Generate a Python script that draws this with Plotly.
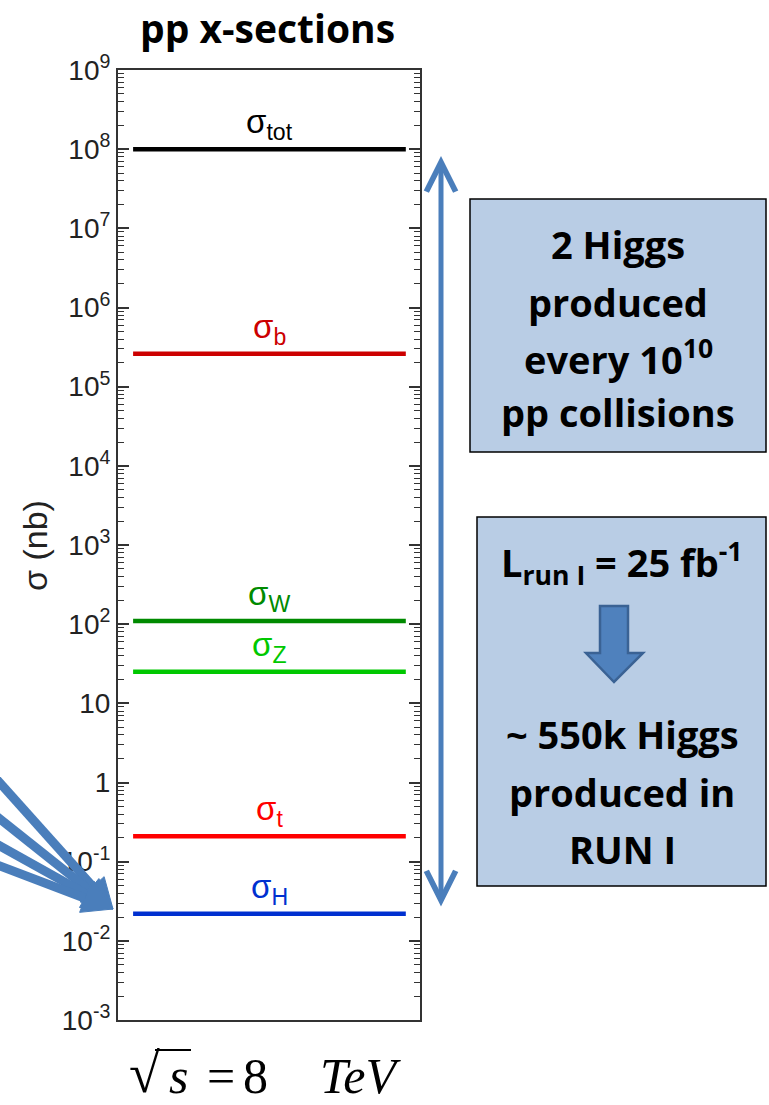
import math
import plotly.graph_objects as go

# ---- data ---------------------------------------------------------------
processes = ["tot", "b", "W", "Z", "t", "H"]
xsec_nb = [1.0e8, 2.6e5, 110.0, 25.0, 0.21, 0.022]
line_colors = ["#000000", "#cc0000", "#008a00", "#00c800", "#ff0000", "#0030d0"]

decades = list(range(-3, 10))
tick_vals = [10.0 ** k for k in decades]
tick_text = ["1" if k == 0 else "10" if k == 1 else f"10<sup>{k}</sup>" for k in decades]
minor_vals = [m * 10.0 ** k for k in range(-3, 9) for m in range(2, 10)]

box1_lines = ["2 Higgs", "produced", "every 10<sup>10</sup>", "pp collisions"]
box2_top = "L<sub>run I</sub> = 25 fb<sup>-1</sup>"
box2_lines = ["~ 550k Higgs", "produced in", "RUN I"]

# ---- page geometry --------------------------------------------------------
W, H = 769, 1105
L, R, T, B = 118, 420, 70, 1020          # plot frame in page pixels
SPAN = [0.05, 0.953]                     # horizontal extent of each level line
BLUE = "#4a7ebb"
BOLD_FONT = "Open Sans"


def pp(x, y):
    """page pixel -> paper coordinates"""
    return (x - L) / (R - L), (B - y) / (B - T)


def path_of(points, close=True):
    s = "M " + " L ".join(f"{pp(x, y)[0]:.5f},{pp(x, y)[1]:.5f}" for x, y in points)
    return s + (" Z" if close else "")


fig = go.Figure()

for p, v, c in zip(processes, xsec_nb, line_colors):
    fig.add_trace(go.Scatter(
        x=SPAN, y=[v, v], mode="lines",
        line=dict(color=c, width=4.5),
        showlegend=False, hoverinfo="skip",
    ))
    fig.add_annotation(
        x=0.5, y=math.log10(v), xref="x", yref="y",
        text=f"σ<sub>{p}</sub>", showarrow=False, yshift=25,
        font=dict(family="Liberation Sans", size=33, color=c),
    )

ann = []
shapes = []


def text_at(x, y, text, size, family=BOLD_FONT, color="#000000", angle=0):
    px, py = pp(x, y)
    ann.append(dict(x=px, y=py, xref="paper", yref="paper", text=text,
                    showarrow=False, textangle=angle,
                    xanchor="center", yanchor="middle",
                    font=dict(family=family, size=size, color=color)))


# title and axis label
text_at(267, 28, "<b>pp x-sections</b>", 39)
text_at(35, 546, "σ (nb)", 34, family="Liberation Sans", color="#222222", angle=-90)

# centre-of-mass energy, set piece by piece
SERIF = "Liberation Serif"
text_at(144, 1073, "√", 56, family=SERIF)
text_at(178, 1076, "<i>s</i>", 50, family=SERIF)
text_at(221, 1076, "=", 50, family=SERIF)
text_at(255, 1076, "8", 50, family=SERIF)
text_at(360, 1076, "<i>TeV</i>", 50, family=SERIF)
o0x, o0y = pp(155, 1050)
o1x, _ = pp(191, 1050)
shapes.append(dict(type="line", xref="paper", yref="paper",
                   x0=o0x, y0=o0y, x1=o1x, y1=o0y,
                   line=dict(color="#000000", width=2)))

# information boxes
for (x0, y0, x1, y1) in [(470, 199, 766, 452), (477, 517, 766, 886)]:
    a0, b0 = pp(x0, y0)
    a1, b1 = pp(x1, y1)
    shapes.append(dict(type="rect", xref="paper", yref="paper",
                       x0=a0, y0=b0, x1=a1, y1=b1,
                       fillcolor="#b9cde5", line=dict(color="#000000", width=1.5)))

for txt, y in zip(box1_lines, [244, 302, 358, 412]):
    text_at(618, y, f"<b>{txt}</b>", 38)
text_at(622, 563, f"<b>{box2_top}</b>", 38)
for txt, y in zip(box2_lines, [734, 792, 849]):
    text_at(622, y, f"<b>{txt}</b>", 38)

# block arrow inside the second box
shapes.append(dict(type="path", xref="paper", yref="paper",
                   path=path_of([(600, 606), (628, 606), (628, 653), (643, 653),
                                 (614, 682), (586, 653), (600, 653)]),
                   fillcolor="#4f81bd", line=dict(color="#3a6294", width=2.5)))

# double arrow spanning sigma_tot .. sigma_H
tx, ty = pp(441, 156)
ann.append(dict(x=tx, y=ty, xref="paper", yref="paper", text="",
                showarrow=True, ax=0, ay=752, arrowside="end+start",
                arrowhead=5, startarrowhead=5, arrowsize=1.15, startarrowsize=1.15,
                arrowwidth=5, arrowcolor=BLUE, standoff=0, startstandoff=0))

# converging arrows pointing at sigma_H (tails enter from the left edge)
tip = (113, 909)
for edge_y in [783, 819, 846, 866]:
    dx, dy = tip[0] - 0.0, tip[1] - edge_y
    n = math.hypot(dx, dy)
    ux, uy = dx / n, dy / n
    tail = (-20 * 1.0, edge_y - 20 * dy / dx)
    base = (tip[0] - 30 * ux, tip[1] - 30 * uy)
    a0, b0 = pp(*tail)
    a1, b1 = pp(*base)
    shapes.append(dict(type="line", xref="paper", yref="paper",
                       x0=a0, y0=b0, x1=a1, y1=b1,
                       line=dict(color=BLUE, width=9)))
    hw = 15
    wing1 = (base[0] - uy * hw, base[1] + ux * hw)
    wing2 = (base[0] + uy * hw, base[1] - ux * hw)
    shapes.append(dict(type="path", xref="paper", yref="paper",
                       path=path_of([tip, wing1, wing2]),
                       fillcolor=BLUE, line=dict(color=BLUE, width=1)))

for a in ann:
    fig.add_annotation(**a)

fig.update_layout(
    width=W, height=H,
    margin=dict(l=L, r=W - R, t=T, b=H - B, pad=0),
    paper_bgcolor="white", plot_bgcolor="white",
    shapes=shapes,
    xaxis=dict(range=[0, 1], showline=True, mirror=True, linecolor="#333333",
               linewidth=2, ticks="", showticklabels=False, showgrid=False,
               zeroline=False, fixedrange=True),
    yaxis=dict(type="log", range=[-3, 9], tickmode="array",
               tickvals=tick_vals, ticktext=tick_text,
               ticks="inside", ticklen=11, tickwidth=1.5, tickcolor="#333333",
               showline=True, mirror="ticks", linecolor="#333333", linewidth=2,
               showgrid=False, zeroline=False, fixedrange=True,
               tickfont=dict(family="Liberation Sans", size=28, color="#222222"),
               minor=dict(tickmode="array", tickvals=minor_vals, ticks="inside",
                          ticklen=6, tickwidth=1.2, tickcolor="#333333",
                          showgrid=False)),
)

fig.write_html("out.html")
